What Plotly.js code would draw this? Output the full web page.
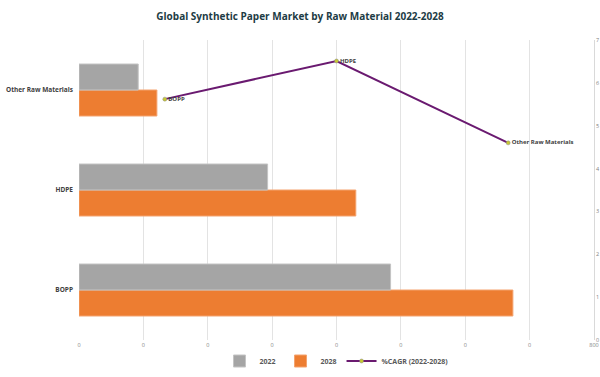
<!DOCTYPE html>
<html>
<head>
<meta charset="utf-8">
<script src="https://cdn.plot.ly/plotly-3.0.1.min.js"></script>
<style>html,body{margin:0;padding:0;background:#fff}#chart{width:600px;height:377px}</style>
</head>
<body>
<div id="chart"></div>
<script>
var categories = ["BOPP", "HDPE", "Other Raw Materials"];
var values2022 = [484, 293, 92];
var values2028 = [674, 430, 121];
var cagr = [5.62, 6.51, 4.6];
var xTickVals = [0, 100, 200, 300, 400, 500, 600, 700, 800];
var xTickText = ["0", "0", "0", "0", "0", "0", "0", "0", "800"];

var fontFam = "'Open Sans', sans-serif";

var t2028 = {
  type: "bar", orientation: "h", name: "<b>2028</b>",
  y: categories, x: values2028,
  marker: {color: "#ed7d31", line: {color: "#f4a36e", width: 1}},
  legendrank: 2
};
var t2022 = {
  type: "bar", orientation: "h", name: "<b>2022</b>",
  y: categories, x: values2022,
  marker: {color: "#a5a5a5", line: {color: "#c4c4c4", width: 1}},
  legendrank: 1
};
var tCagr = {
  type: "scatter", mode: "lines+markers+text", name: "<b>%CAGR (2022-2028)</b>",
  x: categories, y: cagr, text: categories,
  texttemplate: "<b>%{text}</b>",
  textposition: "middle right",
  textfont: {family: fontFam, size: 6, color: "#404040"},
  xaxis: "x2", yaxis: "y2",
  line: {color: "#6a1a70", width: 2},
  marker: {color: "#c8c832", size: 4, line: {color: "#888", width: 0.5}},
  legendrank: 3, cliponaxis: false
};

var layout = {
  width: 600, height: 377,
  margin: {l: 79, r: 6, t: 40, b: 37, autoexpand: false},
  paper_bgcolor: "#fff", plot_bgcolor: "#fff",
  font: {family: fontFam, size: 7, color: "#595959"},
  title: {text: "<b>Global Synthetic Paper Market by Raw Material 2022-2028</b>",
          font: {family: fontFam, size: 10, color: "#1d3c45"},
          x: 0.5, xanchor: "center", y: 0.955, yanchor: "middle"},
  barmode: "group", bargap: 0.48, bargroupgap: 0,
  xaxis: {range: [0, 800], tickvals: xTickVals, ticktext: xTickText,
          showgrid: true, gridcolor: "#e3e3e3", gridwidth: 1,
          zeroline: false, showline: false, ticks: "",
          tickfont: {size: 5.5, color: "#7f7f7f"}, automargin: false, fixedrange: true},
  yaxis: {type: "category", categoryarray: categories, range: [-0.5, 2.5],
          tickvals: categories, ticktext: categories.map(function(c){return "<b>" + c + "</b>";}),
          showgrid: false, zeroline: false, showline: false, ticks: "",
          ticklabelstandoff: 5,
          tickfont: {size: 6.5, color: "#404040"}, automargin: false},
  xaxis2: {type: "category", overlaying: "x", range: [-0.5, 2.5], visible: false},
  yaxis2: {overlaying: "y", side: "right", range: [0, 7], dtick: 1,
           showgrid: false, zeroline: false, showline: true, linecolor: "#d9d9d9", linewidth: 1,
           ticks: "", tickfont: {size: 5.5, color: "#7f7f7f"}, automargin: false},
  showlegend: true,
  legend: {orientation: "h", x: 0.5, xanchor: "center", y: -0.07, yanchor: "middle",
           font: {size: 7, color: "#595959"}, itemwidth: 30, tracegroupgap: 0}
};

Plotly.newPlot("chart", [t2028, t2022, tCagr], layout, {displayModeBar: false, staticPlot: true});
</script>
</body>
</html>
